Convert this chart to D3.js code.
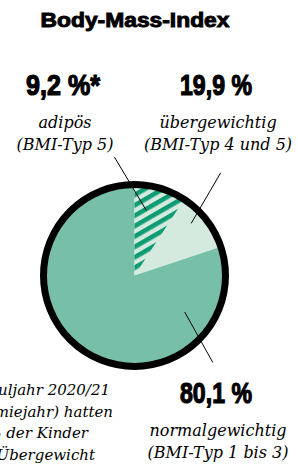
<!DOCTYPE html>
<html>
<head>
<meta charset="utf-8">
<script src="https://cdn.jsdelivr.net/npm/d3@7"></script>
<style>
  html, body { margin: 0; padding: 0; background: #fff; }
  svg { display: block; }
  .title { font-family: "Liberation Sans", Arial, sans-serif; font-weight: 700; font-size: 19.5px; stroke: #000; stroke-width: 0.9px; }
  .num { font-family: "Liberation Sans", Arial, sans-serif; font-weight: 700; font-size: 29.5px; stroke: #000; stroke-width: 1.2px; }
  .lab { font-family: "DejaVu Serif", "Liberation Serif", serif; font-style: italic; font-size: 16px; }
  .foot { font-size: 15px; }
</style>
</head>
<body>
<svg id="chart" width="298" height="464"></svg>
<script>
// shares in percent
const groups = ["übergewichtig", "normalgewichtig"];
const shares = [19.9, 80.1];
const obeseShare = 9.2; // part of übergewichtig, hatched

const numbers = ["9,2 %*", "19,9 %", "80,1 %"];
const names = ["adipös", "übergewichtig", "normalgewichtig"];
const types = ["(BMI-Typ 5)", "(BMI-Typ 4 und 5)", "(BMI-Typ 1 bis 3)"];
const footnote = ["* Im Schuljahr 2020/21", "(Pandemiejahr) hatten", "11,6 % der Kinder", "starkes Übergewicht"];

const colors = { normal: "#77bfa8", light: "#d4eadf", dark: "#0d9b74" };

const width = 298, height = 464;
const cx = 134.5, cy = 275.5, r = 91;

const svg = d3.select("#chart");

// squeeze/stretch a text horizontally so it fills w pixels
function fitText(sel, x, y, w) {
  const len = sel.node().getComputedTextLength();
  sel.attr("x", 0).attr("y", 0)
    .attr("transform", `translate(${x},${y}) scale(${w / len},1)`);
}

const defs = svg.append("defs");
const pat = defs.append("pattern")
  .attr("id", "hatch")
  .attr("patternUnits", "userSpaceOnUse")
  .attr("width", 10).attr("height", 9)
  .attr("patternTransform", "rotate(-30)");
pat.append("rect").attr("width", 10).attr("height", 9).attr("fill", colors.light);
pat.append("rect").attr("width", 10).attr("height", 4.6).attr("fill", colors.dark);

const title = svg.append("text").attr("class", "title")
  .attr("text-anchor", "middle")
  .text("Body-Mass-Index");
fitText(title, 135, 27, 189);

const angle = d3.scaleLinear().domain([0, 100]).range([0, 2 * Math.PI]);

const g = svg.append("g").attr("transform", `translate(${cx},${cy})`);

const pie = d3.pie().sort(null).value(d => d).startAngle(0).endAngle(angle(100));
const arc = d3.arc().innerRadius(0).outerRadius(r);

g.selectAll("path.slice")
  .data(pie(shares))
  .join("path")
  .attr("class", "slice")
  .attr("d", arc)
  .attr("fill", (d, i) => i === 0 ? colors.light : colors.normal);

g.append("path")
  .attr("d", arc({ startAngle: 0, endAngle: angle(obeseShare) }))
  .attr("fill", "url(#hatch)");

g.append("circle").attr("r", r).attr("fill", "none")
  .attr("stroke", "#000").attr("stroke-width", 7);

// leader lines, polar [deg clockwise from 12 o'clock, radius]
const leaders = [
  [[10.4, 66], [-9.6, 120]],
  [[47.4, 77], [40, 134]],
  [[126, 62], [138, 117]]
];
const polar = ([deg, rr]) => [rr * Math.sin(deg * Math.PI / 180), -rr * Math.cos(deg * Math.PI / 180)];
g.selectAll("line.leader")
  .data(leaders)
  .join("line")
  .attr("class", "leader")
  .attr("x1", d => polar(d[0])[0]).attr("y1", d => polar(d[0])[1])
  .attr("x2", d => polar(d[1])[0]).attr("y2", d => polar(d[1])[1])
  .attr("stroke", "#000").attr("stroke-width", 1);

// labels
const labelPos = [[63, 95], [216, 95], [216, 403]];
const numWidths = [74, 72, 72];
labelPos.forEach(([x, y], i) => {
  const t = svg.append("text").attr("class", "num")
    .attr("text-anchor", "middle").text(numbers[i]);
  fitText(t, x, y, numWidths[i]);
  svg.append("text").attr("class", "lab")
    .attr("x", x + 2).attr("y", y + 33).attr("text-anchor", "middle").text(names[i]);
  svg.append("text").attr("class", "lab")
    .attr("x", x + 2).attr("y", y + 55).attr("text-anchor", "middle").text(types[i]);
});

const footEnds = [110, 113, 88, 95];
svg.selectAll("text.foot")
  .data(footnote)
  .join("text")
  .attr("class", "lab foot")
  .attr("x", (d, i) => footEnds[i])
  .attr("y", (d, i) => 395 + i * 21.7)
  .attr("text-anchor", "end")
  .text(d => d);
</script>
</body>
</html>
